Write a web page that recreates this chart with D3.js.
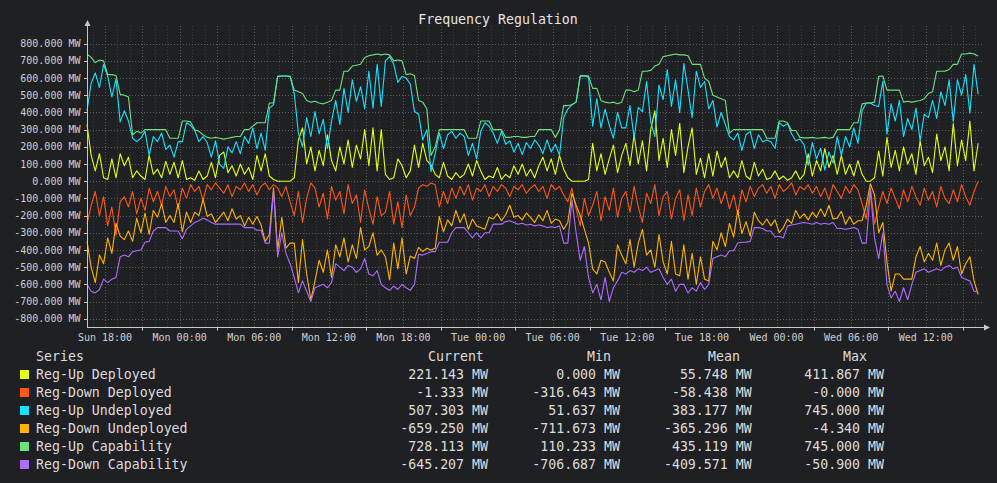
<!DOCTYPE html>
<html>
<head>
<meta charset="utf-8">
<script src="https://cdn.jsdelivr.net/npm/d3@7"></script>
<style>
    html, body { margin: 0; padding: 0; background: #1f2023; }
    svg { display: block; }
    text { font-family: "DejaVu Sans Mono", monospace; }
</style>
</head>
<body>
<svg id="chart-svg" width="997" height="483"></svg>
<script>
// 20 minute samples, Sun 16:33 -> Wed 16:13
const start_time = new Date(2023, 0, 1, 16, 33)
const step_minutes = 20

const series_names = ["Reg-Up Deployed", "Reg-Down Deployed", "Reg-Up Undeployed",
                      "Reg-Down Undeployed", "Reg-Up Capability", "Reg-Down Capability"]
const series_colors = ["#e2ff14", "#ff5714", "#14e3ff", "#ffb400", "#6be27e", "#b06cff"]

const reg_up_deployed = [
    330,150,60,160,20,10,130,20,160,90,140,20,60,30,10,150,40,70,20,115,40,110,20,120,10,20,5,60,10,30,110,20,150,170,50,90,30,100,40,80,10,150,60,160,30,10,0,0,0,0,20,240,310,100,200,60,180,90,270,120,60,200,100,240,80,210,130,300,90,310,60,300,
    40,10,20,130,90,20,60,210,80,220,120,95,40,20,110,30,10,50,20,40,100,30,120,60,10,30,20,80,10,40,20,90,40,100,30,70,20,90,140,60,130,40,150,70,20,0,0,0,0,10,220,60,160,40,130,210,50,150,220,90,270,100,235,60,300,410,120,250,80,300,150,337,
    50,200,310,40,134,20,160,30,175,80,140,20,60,20,120,30,10,110,30,70,10,20,60,10,30,5,20,60,10,40,160,30,120,60,190,80,150,40,150,40,100,30,120,40,0,0,20,175,30,256,80,180,60,200,100,160,40,235,90,140,50,275,120,200,60,335,90,240,120,350,60,221
]
const reg_down_deployed = [
    -250,-140,-60,-200,-90,-260,-150,-315,-120,-90,-150,-60,-190,-100,-170,-40,-120,-60,-140,-30,-90,-50,-160,-40,-100,-20,-60,-30,-110,-20,-50,-10,-40,-70,-20,-90,-30,-50,-10,-60,-20,-80,-30,-10,-50,-20,-40,-90,-30,-120,-200,-60,-240,-100,-10,-40,-150,-70,-220,-30,-110,-60,-190,-20,-130,-80,-240,-50,-160,-250,-90,-200,
    -180,-60,-250,-120,-270,-80,-200,-150,-40,-20,-30,-10,-20,-150,-60,-130,-40,-100,-30,-80,-20,-110,-40,-60,-20,-90,-30,-60,-20,-40,-90,-30,-50,-20,-70,-40,-20,-60,-30,-100,-20,-50,-30,-80,-120,-40,-160,-260,-100,-200,-140,-60,-230,-90,-170,-40,-210,-100,-60,-180,-30,-150,-240,-70,-130,-20,-200,-90,-60,-220,-100,-50,
    -230,-80,-200,-40,-150,-60,-20,-100,-40,-130,-60,-160,-80,-190,-50,-120,-30,-90,-40,-20,-70,-30,-100,-20,-60,-40,-10,-80,-30,-50,-20,-70,-30,-90,-40,-110,-20,-60,-100,-30,-70,-20,-50,-130,-220,-40,-250,-150,-60,-130,-40,-100,-160,-50,-120,-30,-90,-140,-40,-110,-60,-150,-30,-100,-130,-50,-120,-20,-90,-140,-60,-1.3
]
const reg_up_undeployed = [
    410,570,630,545,680,610,490,595,345,410,350,250,230,250,290,150,260,230,280,185,210,140,230,230,340,325,295,230,260,225,140,235,100,75,200,165,230,160,260,220,310,190,280,180,425,445,610,612,612,610,510,280,200,370,260,405,275,360,190,350,470,330,540,400,590,465,550,420,640,425,680,435,
    700,725,680,575,610,600,565,405,390,240,300,55,160,280,190,270,290,250,280,260,150,220,130,290,340,320,280,220,290,215,235,170,220,155,225,190,240,210,160,240,170,215,150,370,420,445,460,613,613,603,320,480,310,420,325,250,400,310,310,440,250,430,405,580,345,260,560,475,650,435,590,398,
    685,530,370,640,546,580,420,470,315,400,330,260,240,280,180,270,290,190,270,230,240,230,190,340,320,335,275,235,245,212,92,225,130,192,65,170,105,260,150,260,200,310,220,410,455,455,440,435,582,274,450,350,470,260,365,300,425,235,390,370,470,365,520,440,590,345,590,500,620,395,680,507
]
const reg_down_undeployed = [
    -350,-500,-590,-430,-480,-330,-420,-245,-320,-340,-290,-350,-215,-300,-185,-310,-170,-210,-130,-240,-200,-240,-130,-295,-180,-240,-180,-200,-105,-205,-190,-240,-210,-180,-230,-160,-220,-200,-260,-210,-250,-205,-255,-350,-310,-40,-400,-210,-390,-360,-360,-590,-340,-540,-690,-580,-460,-530,-400,-560,-370,-440,-330,-470,-370,-450,-270,-400,-380,-300,-430,-400,
    -440,-575,-360,-510,-330,-540,-435,-450,-385,-410,-390,-400,-390,-205,-295,-225,-260,-170,-240,-190,-280,-220,-260,-270,-280,-210,-220,-190,-230,-195,-140,-210,-200,-225,-185,-210,-240,-195,-230,-170,-245,-220,-230,-280,-240,-70,-140,-200,-280,-360,-510,-540,-460,-470,-530,-580,-370,-430,-480,-340,-500,-360,-280,-430,-400,-500,-310,-470,-540,-350,-540,-550,
    -370,-570,-420,-600,-440,-570,-580,-350,-400,-300,-380,-245,-325,-170,-305,-235,-320,-180,-230,-255,-220,-260,-225,-300,-270,-220,-245,-170,-215,-190,-225,-180,-210,-160,-205,-140,-220,-215,-175,-250,-205,-250,-230,-230,-140,-15,-80,-300,-240,-470,-640,-540,-540,-570,-570,-570,-440,-380,-470,-420,-460,-360,-490,-400,-360,-460,-380,-540,-480,-440,-580,-659
]
const reg_up_capability = [
    740,720,690,705,700,620,620,615,505,500,490,270,290,280,300,300,300,300,300,300,250,250,250,350,350,345,300,290,270,255,250,255,250,245,250,255,260,260,300,300,320,340,340,340,455,455,610,612,612,610,530,520,510,470,460,465,455,450,460,470,530,530,640,640,670,675,680,720,730,735,740,735,
    740,735,700,705,700,620,625,615,470,460,420,150,200,300,300,300,300,300,300,300,250,250,250,350,350,350,300,300,300,255,255,260,260,255,255,260,260,300,300,300,300,255,300,440,440,445,460,613,613,613,540,540,470,460,455,460,450,460,530,530,520,530,640,640,645,670,680,725,730,735,740,735,
    735,730,680,680,680,600,580,500,490,480,470,280,300,300,300,300,300,300,300,300,250,250,250,350,350,340,295,295,255,252,252,255,250,252,255,250,255,300,300,300,300,340,340,450,455,455,460,610,612,530,530,530,530,460,465,460,465,470,480,510,520,640,640,640,650,680,680,740,740,745,740,728
]
const reg_down_capability = [
    -600,-640,-650,-630,-570,-590,-570,-560,-440,-430,-440,-410,-405,-400,-355,-350,-290,-270,-270,-270,-290,-290,-290,-335,-280,-260,-240,-230,-215,-225,-240,-250,-250,-250,-250,-250,-250,-250,-270,-270,-270,-285,-285,-360,-360,-51,-440,-300,-420,-480,-560,-650,-580,-640,-700,-620,-610,-600,-620,-590,-480,-500,-520,-490,-500,-530,-510,-450,-540,-550,-520,-600,
    -620,-635,-610,-630,-600,-620,-635,-600,-425,-430,-420,-410,-410,-355,-355,-355,-300,-270,-270,-270,-300,-330,-300,-330,-300,-300,-250,-250,-250,-235,-230,-240,-250,-245,-255,-250,-260,-255,-260,-270,-265,-270,-260,-360,-360,-110,-300,-460,-380,-560,-650,-600,-690,-560,-700,-620,-580,-530,-540,-520,-530,-510,-520,-500,-530,-520,-510,-560,-600,-570,-640,-600,
    -600,-650,-620,-640,-590,-630,-600,-450,-440,-430,-440,-405,-405,-360,-355,-355,-350,-270,-270,-275,-290,-290,-325,-320,-330,-260,-255,-250,-245,-240,-245,-250,-240,-250,-245,-250,-240,-275,-275,-280,-275,-270,-280,-360,-360,-55,-330,-450,-300,-600,-680,-640,-700,-620,-690,-600,-530,-520,-510,-530,-520,-510,-520,-500,-490,-510,-500,-560,-570,-580,-640,-645
]

// legend table (as printed under the chart)
const stat_current = [221.143, -1.333, 507.303, -659.250, 728.113, -645.207]
const stat_min = [0.000, -316.643, 51.637, -711.673, 110.233, -706.687]
const stat_mean = [55.748, -58.438, 383.177, -365.296, 435.119, -409.571]
const stat_max = [411.867, -0.0, 745.000, -4.340, 745.000, -50.900]

const y_ticks = [800, 700, 600, 500, 400, 300, 200, 100, 0, -100, -200, -300, -400, -500, -600, -700, -800]

const series_values = [reg_up_deployed, reg_down_deployed, reg_up_undeployed,
                       reg_down_undeployed, reg_up_capability, reg_down_capability]

function formatMW(v) {
    const neg = v < 0 || Object.is(v, -0)
    return (neg ? "-" : "") + Math.abs(v).toFixed(3) + " MW"
}

function renderChart() {
    const svg = d3.select("#chart-svg")
    const plot_left = 87, plot_right = 982.3, plot_top = 26, axis_y = 327.5

    const end_time = d3.timeHour.offset(start_time, 72)
    const x = d3.scaleTime().domain([start_time, end_time]).range([plot_left, plot_right])
    const y = d3.scaleLinear().domain([-800, 800]).range([318.7, 43.7])
    const times = reg_up_deployed.map((d, i) => d3.timeMinute.offset(start_time, i * step_minutes))

    svg.append("text")
        .attr("x", 498).attr("y", 23.5)
        .attr("text-anchor", "middle")
        .attr("font-size", "13.25px")
        .attr("fill", "#e6e6e6")
        .text("Frequency Regulation")

    // grid
    const grid = svg.append("g").attr("shape-rendering", "crispEdges")
    const hours = d3.timeHour.range(d3.timeHour.ceil(start_time), end_time)
    grid.selectAll(".vgrid")
        .data(hours)
        .enter()
        .append("line")
        .attr("x1", d => Math.round(x(d)) + 0.5).attr("x2", d => Math.round(x(d)) + 0.5)
        .attr("y1", plot_top).attr("y2", axis_y)
        .attr("stroke", d => d.getHours() % 3 === 0 ? "#5a5b5e" : "#3b3c40")
        .attr("stroke-dasharray", "1,2")
    grid.selectAll(".hgrid")
        .data(y_ticks)
        .enter()
        .append("line")
        .attr("x1", plot_left).attr("x2", plot_right)
        .attr("y1", d => Math.round(y(d)) + 0.5).attr("y2", d => Math.round(y(d)) + 0.5)
        .attr("stroke", "#5a5b5e")
        .attr("stroke-dasharray", "1,2")

    // series, drawn in legend order
    const line = d3.line()
        .x((d, i) => x(times[i]))
        .y(d => y(d))
    svg.append("g")
        .selectAll("path")
        .data(series_values)
        .enter()
        .append("path")
        .attr("d", d => line(d))
        .attr("fill", "none")
        .attr("stroke", (d, i) => series_colors[i])
        .attr("stroke-width", 1.1)
        .attr("stroke-linejoin", "round")

    // axes
    const axis_color = "#c8c8c8"
    svg.append("line")
        .attr("x1", plot_left + 0.5).attr("x2", plot_left + 0.5)
        .attr("y1", 25).attr("y2", axis_y)
        .attr("stroke", axis_color)
    svg.append("path")
        .attr("d", `M${plot_left + 0.5},20 L${plot_left + 3.5},26 L${plot_left - 2.5},26 Z`)
        .attr("fill", axis_color)
    svg.append("line")
        .attr("x1", plot_left).attr("x2", 984)
        .attr("y1", axis_y).attr("y2", axis_y)
        .attr("stroke", axis_color)
    svg.append("path")
        .attr("d", `M990,${axis_y} L984,${axis_y - 3} L984,${axis_y + 3} Z`)
        .attr("fill", axis_color)

    svg.selectAll(".y-label")
        .data(y_ticks)
        .enter()
        .append("text")
        .attr("x", 80.5)
        .attr("y", d => y(d) + 3.6)
        .attr("text-anchor", "end")
        .attr("font-size", "10px")
        .attr("fill", "#d0d0d0")
        .text(d => d.toFixed(3) + " MW")
    svg.selectAll(".y-tick")
        .data(y_ticks)
        .enter()
        .append("line")
        .attr("x1", plot_left - 3).attr("x2", plot_left)
        .attr("y1", d => Math.round(y(d)) + 0.5).attr("y2", d => Math.round(y(d)) + 0.5)
        .attr("stroke", axis_color)

    // x ticks sit between the labels (21h, 03h, 09h, 15h)
    const x_ticks = hours.filter(d => d.getHours() % 6 === 3)
    svg.selectAll(".x-tick")
        .data(x_ticks)
        .enter()
        .append("line")
        .attr("x1", d => Math.round(x(d)) + 0.5).attr("x2", d => Math.round(x(d)) + 0.5)
        .attr("y1", axis_y).attr("y2", axis_y + 3)
        .attr("stroke", axis_color)
    const x_labels = d3.timeHour.every(6).range(start_time, end_time)
    const fmt = d3.timeFormat("%a %H:%M")
    svg.selectAll(".x-label")
        .data(x_labels)
        .enter()
        .append("text")
        .attr("x", d => x(d))
        .attr("y", 341.3)
        .attr("text-anchor", "middle")
        .attr("font-size", "10px")
        .attr("fill", "#d0d0d0")
        .text(d => fmt(d))

    // legend
    const legend = svg.append("g").attr("font-size", "13.25px").attr("fill", "#dcdcdc")
    const header_y = 361
    legend.append("text").attr("x", 36).attr("y", header_y).text("Series")
    legend.append("text").attr("x", 428).attr("y", header_y).text("Current")
    legend.append("text").attr("x", 587).attr("y", header_y).text("Min")
    legend.append("text").attr("x", 708).attr("y", header_y).text("Mean")
    legend.append("text").attr("x", 843).attr("y", header_y).text("Max")

    const columns = [[stat_current, 488], [stat_min, 620], [stat_mean, 751.7], [stat_max, 884]]
    let rows = legend.selectAll(".legend-row")
        .data(series_names)
        .enter()
        .append("g")
        .attr("transform", (d, i) => `translate(0, ${header_y + 18 * (i + 1)})`)
    rows.append("rect")
        .attr("x", 20).attr("y", -9)
        .attr("width", 9).attr("height", 9)
        .attr("fill", (d, i) => series_colors[i])
    rows.append("text")
        .attr("x", 36)
        .text(d => d)
    columns.forEach(([stats, right]) => {
        rows.append("text")
            .attr("x", right)
            .attr("text-anchor", "end")
            .text((d, i) => formatMW(stats[i]))
    })
}

renderChart()
</script>
</body>
</html>
